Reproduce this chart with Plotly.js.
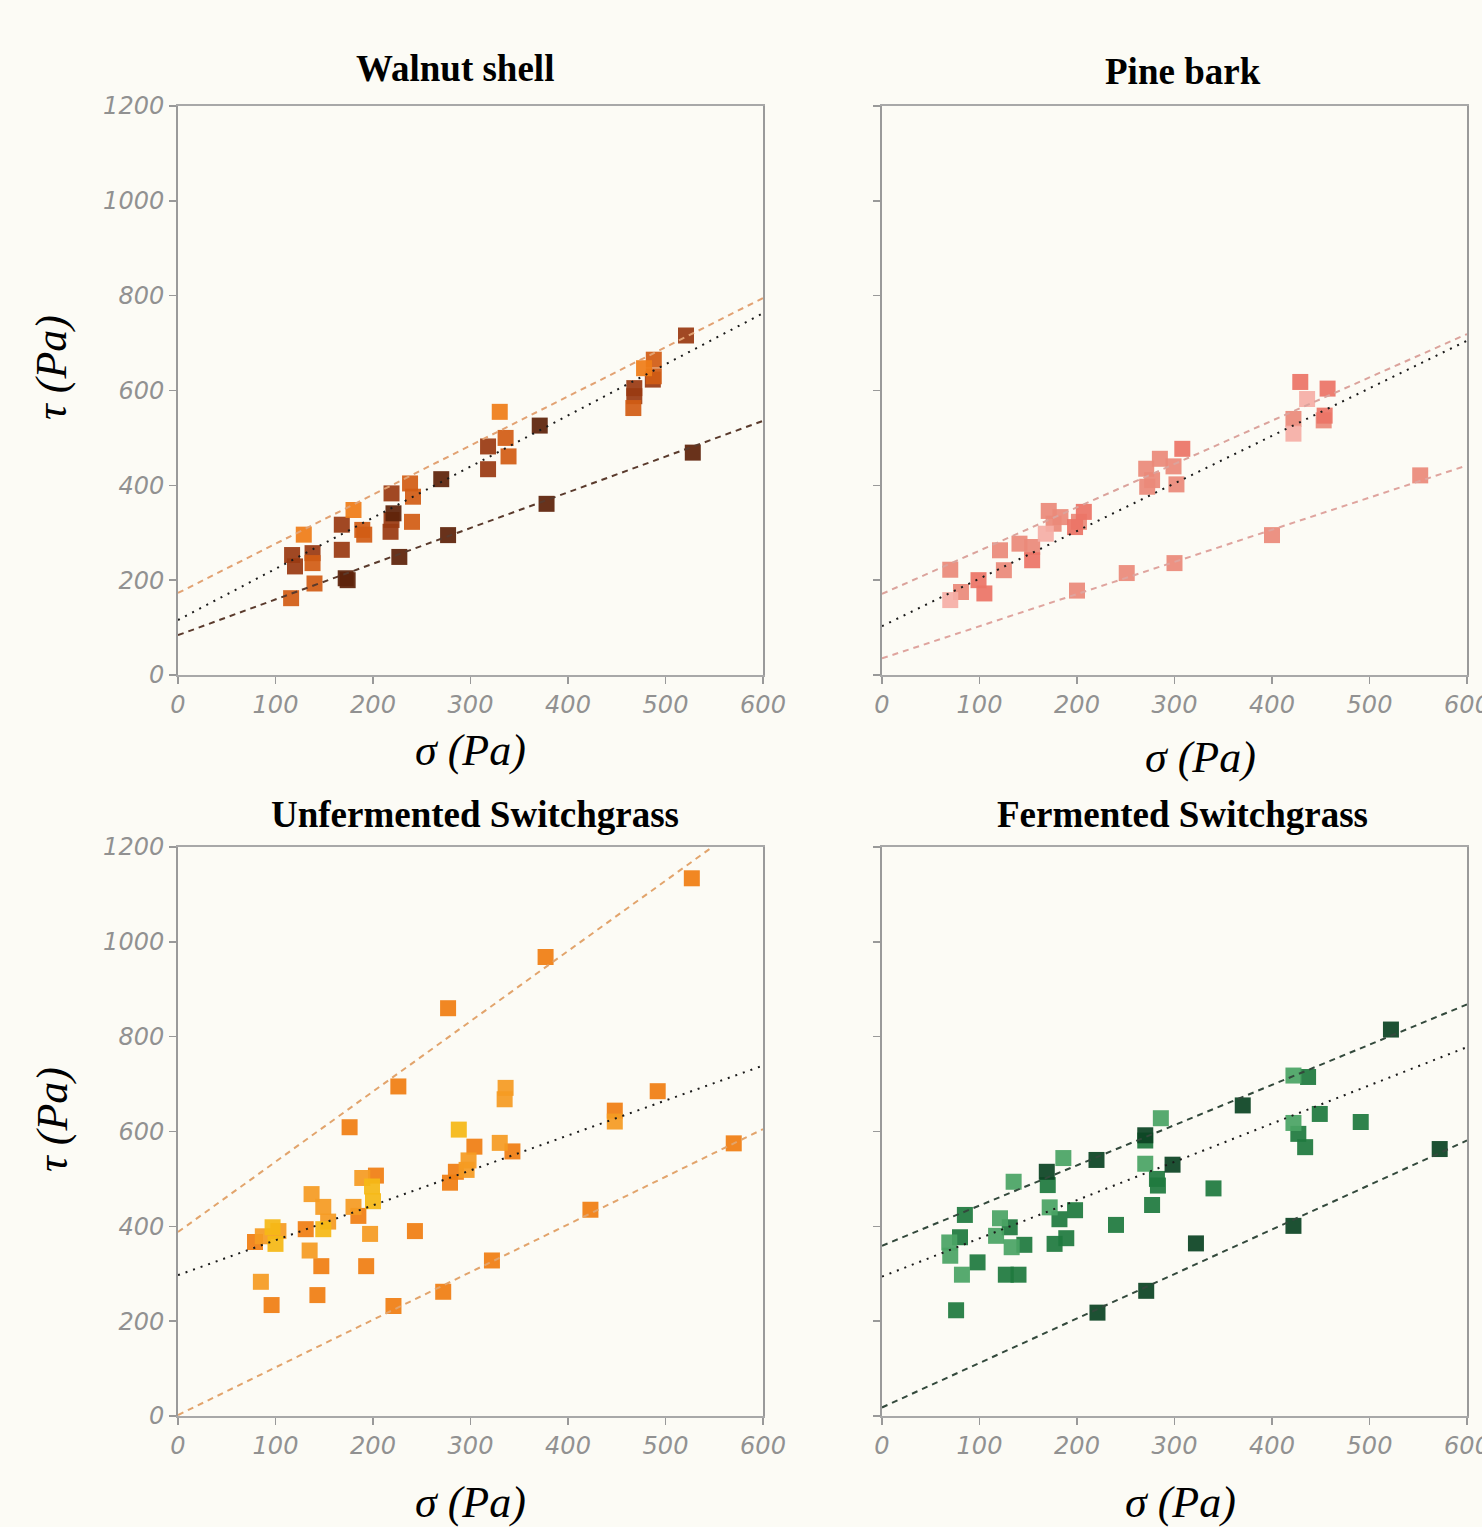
<!DOCTYPE html>
<html>
<head>
<meta charset="utf-8">
<script src="https://cdn.plot.ly/plotly-3.0.1.min.js"></script>
<style>html,body{margin:0;padding:0;background:#fcfbf5;}</style>
</head>
<body>
<div id="chart" style="width:1482px;height:1527px;"></div>
<script>
// ---------- Data ----------
const panelTitles = ["Walnut shell", "Pine bark", "Unfermented Switchgrass", "Fermented Switchgrass"];
const xTickVals = [0, 100, 200, 300, 400, 500, 600];
const yTickVals = [0, 200, 400, 600, 800, 1000, 1200];
const fitX = [0, 600];

// Walnut shell
const walnutDarkX = [371, 270, 221, 172, 174, 227, 277, 378, 528];
const walnutDarkY = [526, 413, 341, 204, 200, 249, 295, 361, 469];
const walnutBrownX = [521, 487, 468, 468, 318, 318, 219, 218, 219, 168, 168, 117, 138, 120];
const walnutBrownY = [716, 623, 605, 588, 482, 434, 383, 302, 327, 317, 264, 253, 257, 229];
const walnutOrangeX = [488, 488, 467, 336, 339, 238, 241, 240, 189, 191, 138, 140, 116];
const walnutOrangeY = [665, 630, 563, 500, 461, 404, 376, 323, 306, 296, 236, 193, 162];
const walnutBrightX = [478, 330, 180, 129];
const walnutBrightY = [647, 555, 348, 296];
const walnutUpperFit = [173, 795];
const walnutMeanFit = [116, 763];
const walnutLowerFit = [84, 536];

// Pine bark
const pineCoralX = [429, 457, 454, 308, 207, 198, 154, 105, 99];
const pineCoralY = [618, 604, 547, 477, 344, 312, 242, 172, 200];
const pineSalmonX = [422, 453, 552, 400, 285, 299, 271, 277, 272, 302, 171, 183, 176, 202, 121, 141, 154, 125, 70, 81, 300, 251, 200];
const pineSalmonY = [540, 537, 421, 295, 456, 440, 435, 411, 397, 402, 346, 333, 319, 323, 263, 277, 270, 221, 222, 175, 236, 215, 178];
const pineLightX = [436, 422, 70, 168];
const pineLightY = [582, 509, 158, 298];
const pineUpperFit = [171, 719];
const pineMeanFit = [103, 705];
const pineLowerFit = [35, 442];

// Unfermented switchgrass
const unfOrangeX = [527, 377, 277, 226, 176, 492, 448, 304, 343, 285, 279, 203, 185, 131, 79, 243, 147, 193, 96, 143, 570, 423, 322, 272, 221];
const unfOrangeY = [1134, 968, 860, 695, 609, 685, 644, 568, 558, 515, 492, 507, 422, 394, 367, 390, 316, 316, 234, 255, 575, 435, 328, 262, 232];
const unfLightX = [336, 335, 448, 330, 298, 296, 189, 137, 149, 180, 154, 103, 87, 197, 135, 85];
const unfLightY = [692, 668, 621, 576, 539, 519, 502, 468, 441, 441, 410, 390, 379, 384, 349, 283];
const unfGoldX = [288, 199, 200, 149, 97, 100];
const unfGoldY = [604, 484, 453, 394, 398, 363];
const unfUpperFit = [388, 1277];
const unfMeanFit = [297, 739];
const unfLowerFit = [2, 605];

// Fermented switchgrass
const ferDarkX = [522, 370, 270, 220, 169, 298, 322, 422, 572, 271, 221];
const ferDarkY = [815, 655, 592, 540, 515, 530, 364, 401, 563, 264, 218];
const ferMidX = [437, 449, 491, 427, 434, 270, 282, 283, 340, 277, 198, 182, 240, 85, 131, 146, 80, 189, 177, 98, 127, 140, 76, 170];
const ferMidY = [715, 637, 620, 595, 567, 581, 500, 486, 480, 445, 434, 415, 403, 424, 398, 361, 377, 375, 363, 324, 298, 298, 223, 487];
const ferLightX = [422, 422, 286, 186, 135, 270, 172, 121, 117, 133, 69, 70, 82];
const ferLightY = [718, 618, 628, 544, 494, 532, 440, 417, 380, 356, 366, 338, 298];
const ferUpperFit = [359, 868];
const ferMeanFit = [294, 778];
const ferLowerFit = [18, 581];

// ---------- Build ----------
const W = 1482, H = 1527;
function px(x) { return x / W; }
function py(y) { return 1 - y / H; }

const traces = [];
function pts(x, y, color, ax) {
  traces.push({
    x: x, y: y, type: 'scatter', mode: 'markers',
    xaxis: 'x' + ax, yaxis: 'y' + ax,
    marker: { symbol: 'square', size: 16, color: color, opacity: 0.93, line: { width: 0 } },
    showlegend: false, hoverinfo: 'skip'
  });
}
function fit(y, color, dash, ax) {
  traces.push({
    x: fitX, y: y, type: 'scatter', mode: 'lines',
    xaxis: 'x' + ax, yaxis: 'y' + ax,
    line: { color: color, width: 2, dash: dash },
    showlegend: false, hoverinfo: 'skip'
  });
}
const DASH = '6px,5px';
const DOT = '2px,6px';

// Panel 1
pts(walnutBrownX, walnutBrownY, '#9a3a12', '');
pts(walnutOrangeX, walnutOrangeY, '#d25c14', '');
pts(walnutBrightX, walnutBrightY, '#ef7d18', '');
pts(walnutDarkX, walnutDarkY, '#5e220a', '');
fit(walnutUpperFit, '#e2a273', DASH, '');
fit(walnutMeanFit, '#1a1a1a', DOT, '');
fit(walnutLowerFit, '#5a3a2c', DASH, '');
// Panel 2
pts(pineSalmonX, pineSalmonY, '#eb8a7a', '2');
pts(pineCoralX, pineCoralY, '#ec7466', '2');
pts(pineLightX, pineLightY, '#f5aea6', '2');
fit(pineUpperFit, '#dba39c', DASH, '2');
fit(pineMeanFit, '#1a1a1a', DOT, '2');
fit(pineLowerFit, '#dfa49e', DASH, '2');
// Panel 3
pts(unfOrangeX, unfOrangeY, '#f07e12', '3');
pts(unfLightX, unfLightY, '#f59b22', '3');
pts(unfGoldX, unfGoldY, '#f5b816', '3');
fit(unfUpperFit, '#e2a46c', DASH, '3');
fit(unfMeanFit, '#1a1a1a', DOT, '3');
fit(unfLowerFit, '#e2a46c', DASH, '3');
// Panel 4
pts(ferMidX, ferMidY, '#1f7a3e', '4');
pts(ferLightX, ferLightY, '#4aa464', '4');
pts(ferDarkX, ferDarkY, '#0c4424', '4');
fit(ferUpperFit, '#33493c', DASH, '4');
fit(ferMeanFit, '#1a1a1a', DOT, '4');
fit(ferLowerFit, '#33493c', DASH, '4');

const tickFont = { family: 'DejaVu Sans', size: 24, style: 'italic', color: '#919191' };
function xax(d0, d1, anchor) {
  return {
    domain: [px(d0), px(d1)], anchor: anchor, range: [0, 600],
    tickvals: xTickVals, ticktext: xTickVals.map(String),
    showgrid: false, zeroline: false, showline: true, mirror: true,
    linecolor: '#a8a8a8', linewidth: 2, ticks: 'outside', ticklen: 7,
    tickcolor: '#999', tickwidth: 1.5, tickfont: tickFont, fixedrange: true,
    ticklabeloverflow: 'allow'
  };
}
function yax(t0, t1, anchor, labels) {
  return {
    domain: [py(t1), py(t0)], anchor: anchor, range: [0, 1200],
    tickvals: yTickVals, ticktext: yTickVals.map(String), showticklabels: labels,
    showgrid: false, zeroline: false, showline: true, mirror: true,
    linecolor: '#9a9a9a', linewidth: 2, ticks: 'outside', ticklen: 7,
    tickcolor: '#999', tickwidth: 1.5, tickfont: tickFont, fixedrange: true,
    ticklabeloverflow: 'allow'
  };
}

const titleFont = { family: 'Liberation Serif', size: 37, weight: 'bold', color: '#000' };
const axFont = { family: 'Liberation Serif', size: 44, style: 'italic', color: '#000' };
function ann(text, x, y, font, angle) {
  return { text: text, xref: 'paper', yref: 'paper', x: px(x), y: py(y),
    xanchor: 'center', yanchor: 'middle', showarrow: false, font: font, textangle: angle || 0 };
}

const layout = {
  width: W, height: H,
  margin: { l: 0, r: 0, t: 0, b: 0 },
  paper_bgcolor: '#fcfbf5', plot_bgcolor: '#fcfbf5',
  showlegend: false,
  xaxis: xax(178, 763, 'y'), yaxis: yax(106, 675, 'x', true),
  xaxis2: xax(882, 1467, 'y2'), yaxis2: yax(106, 675, 'x2', false),
  xaxis3: xax(178, 763, 'y3'), yaxis3: yax(847, 1416, 'x3', true),
  xaxis4: xax(882, 1467, 'y4'), yaxis4: yax(847, 1416, 'x4', false),
  annotations: [
    ann(panelTitles[0], 455, 68, titleFont),
    ann(panelTitles[1], 1183, 72, titleFont),
    ann(panelTitles[2], 475, 814, titleFont),
    ann(panelTitles[3], 1182, 814, titleFont),
    ann('σ (Pa)', 470, 750, axFont),
    ann('σ (Pa)', 1200, 758, axFont),
    ann('σ (Pa)', 470, 1502, axFont),
    ann('σ (Pa)', 1180, 1502, axFont),
    ann('τ (Pa)', 52, 368, axFont, -90),
    ann('τ (Pa)', 52, 1120, axFont, -90)
  ]
};

Plotly.newPlot('chart', traces, layout, { staticPlot: true, displayModeBar: false });
</script>
</body>
</html>
